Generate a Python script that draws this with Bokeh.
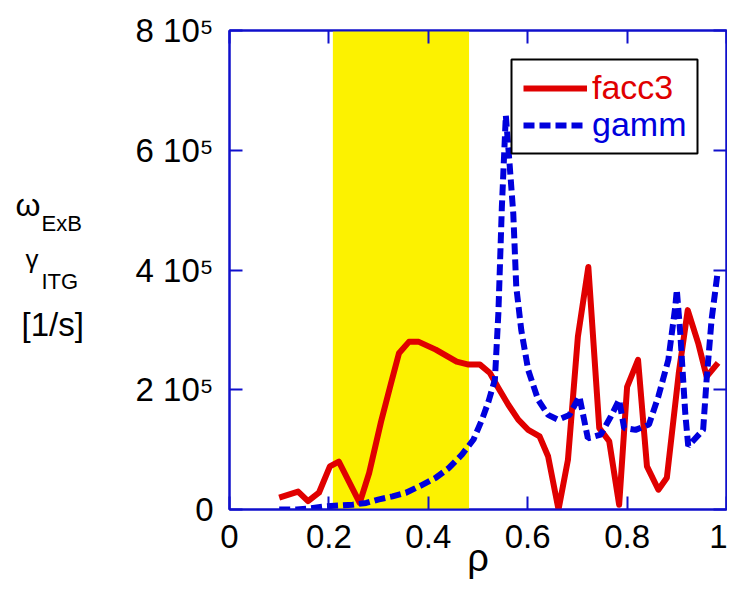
from bokeh.plotting import figure
from bokeh.layouts import row
from bokeh.models import (Range1d, LinearAxis, FixedTicker, BoxAnnotation, Legend,
                          LegendItem)
from bokeh.core.properties import value
from bokeh.embed import file_html
from bokeh.resources import INLINE

# ---- data ----
rho_facc3 = [0.100, 0.138, 0.158, 0.180, 0.202, 0.220, 0.262, 0.281, 0.305, 0.325,
             0.341, 0.361, 0.381, 0.415, 0.457, 0.481, 0.504, 0.524, 0.541, 0.561,
             0.581, 0.601, 0.624, 0.641, 0.662, 0.681, 0.701, 0.722, 0.744, 0.764,
             0.784, 0.800, 0.822, 0.840, 0.863, 0.880, 0.904, 0.922, 0.943, 0.960,
             0.983]
facc3 = [20e3, 30e3, 14e3, 28e3, 72e3, 80e3, 11e3, 61e3, 147e3, 211e3,
         261e3, 280e3, 280e3, 267e3, 247e3, 242e3, 242e3, 228e3, 203e3, 175e3,
         150e3, 133e3, 122e3, 89e3, 0e3, 83e3, 289e3, 405e3, 136e3, 114e3,
         8e3, 205e3, 250e3, 72e3, 33e3, 53e3, 228e3, 333e3, 278e3, 222e3,
         245e3]

rho_gamm = [0.100, 0.135, 0.162, 0.195, 0.222, 0.248, 0.275, 0.301, 0.328, 0.355,
            0.385, 0.415, 0.441, 0.468, 0.491, 0.508, 0.521, 0.534, 0.541, 0.548,
            0.556, 0.564, 0.571, 0.577, 0.587, 0.601, 0.621, 0.641, 0.661, 0.684,
            0.704, 0.721, 0.747, 0.767, 0.784, 0.794, 0.817, 0.844, 0.863, 0.883,
            0.897, 0.900, 0.907, 0.917, 0.923, 0.953, 0.960, 0.970, 0.982]
gamm = [0e3, 0e3, 2e3, 5.5e3, 6.7e3, 8e3, 11e3, 17e3, 22e3, 28e3,
        40e3, 53e3, 69e3, 92e3, 117e3, 150e3, 180e3, 217e3, 328e3, 505e3,
        658e3, 572e3, 494e3, 372e3, 300e3, 233e3, 183e3, 158e3, 150e3, 158e3,
        189e3, 119e3, 125e3, 155e3, 183e3, 136e3, 133e3, 142e3, 189e3, 250e3,
        339e3, 367e3, 294e3, 161e3, 106e3, 133e3, 217e3, 317e3, 395e3]

band_start = 0.208
band_end = 0.482

x_ticks = [0, 0.2, 0.4, 0.6, 0.8, 1.0]
x_tick_labels = ["0", "0.2", "0.4", "0.6", "0.8", "1"]
y_ticks = [0, 200000, 400000, 600000, 800000]
y_tick_labels = ["0", "2 10\u2075", "4 10\u2075", "6 10\u2075", "8 10\u2075"]

# ---- styling ----
FONT = "Liberation Sans"
AX = "#1010cc"
RED = "#e00000"
BLUE = "#0000dd"
YELLOW = "#fcf200"
H = 581
TITLE_W = 100
TOP, BOTTOM = 30, 71          # borders around the plotting frame (px)

# ---- left strip holding the multi-part y-axis title (pixel coordinates) ----
lab = figure(width=TITLE_W, height=H, x_range=Range1d(0, TITLE_W),
             y_range=Range1d(H - BOTTOM, TOP),
             output_backend="svg", toolbar_location=None,
             min_border_left=0, min_border_right=0,
             min_border_top=TOP, min_border_bottom=BOTTOM,
             x_axis_type=None, y_axis_type=None)
lab.grid.visible = False
lab.outline_line_color = None
lab.background_fill_color = "white"
lab.border_fill_color = "white"
for txt, x, y, size in [("\u03c9", 15, 205, "32px"), ("ExB", 41, 223, "22px"),
                        ("\u03b3", 25, 259, "26px"), ("ITG", 41, 282, "22px"),
                        ("[1/s]", 21, 325, "33px")]:
    lab.text(x=[x], y=[y], text=[txt], text_font=value(FONT), text_font_size=size,
             text_color="black", text_baseline="alphabetic", text_align="left")

# ---- main plot ----
p = figure(width=727 - TITLE_W, height=H, x_range=Range1d(0, 1), y_range=Range1d(0, 8e5),
           output_backend="svg", toolbar_location=None,
           min_border_left=229 - TITLE_W, min_border_right=1, min_border_top=TOP,
           min_border_bottom=BOTTOM)
p.grid.visible = False
p.outline_line_color = AX
p.outline_line_width = 2
p.background_fill_color = "white"
p.border_fill_color = "white"

p.add_layout(BoxAnnotation(left=band_start, right=band_end, fill_color=YELLOW,
                           fill_alpha=1, line_color=None, level="underlay"))

r1 = p.line(rho_facc3, facc3, line_color=RED, line_width=6, line_join="round")
r2 = p.line(rho_gamm, gamm, line_color=BLUE, line_width=6, line_dash="11 5")


def style_axis(ax, ticks, labels, minor, show_labels):
    ax.ticker = FixedTicker(ticks=ticks, num_minor_ticks=minor)
    ax.axis_line_color = AX
    ax.axis_line_width = 2
    ax.major_tick_line_color = AX
    ax.major_tick_line_width = 2
    ax.minor_tick_line_color = AX
    ax.minor_tick_line_width = 2
    ax.major_tick_in = 13
    ax.major_tick_out = 0
    ax.minor_tick_in = 8
    ax.minor_tick_out = 0
    if show_labels:
        ax.major_label_overrides = dict(zip(ticks, labels))
        ax.major_label_text_font = FONT
        ax.major_label_text_font_size = "33px"
        ax.major_label_text_color = "black"
    else:
        ax.major_label_overrides = {t: "" for t in ticks}
        ax.major_label_text_font_size = "0px"
        ax.major_label_standoff = 0


xb = p.xaxis[0]
style_axis(xb, x_ticks, x_tick_labels, 4, True)
xb.major_label_standoff = 15
xb.axis_label = "\u03c1"
xb.axis_label_text_font = FONT
xb.axis_label_text_font_size = "38px"
xb.axis_label_text_font_style = "normal"
xb.axis_label_text_color = "black"
xb.axis_label_standoff = -14

yl = p.yaxis[0]
style_axis(yl, y_ticks, y_tick_labels, 2, True)
yl.major_label_standoff = 16

xt = LinearAxis()
style_axis(xt, x_ticks, x_tick_labels, 4, False)
p.add_layout(xt, "above")
yr = LinearAxis()
style_axis(yr, y_ticks, y_tick_labels, 2, False)
p.add_layout(yr, "right")

# legend frame + two legends (different label colours)
p.add_layout(BoxAnnotation(left=511 - TITLE_W, right=697 - TITLE_W, top=59, bottom=153,
                           left_units="canvas", right_units="canvas",
                           top_units="canvas", bottom_units="canvas",
                           fill_color="white", fill_alpha=1,
                           line_color="black", line_alpha=1, line_width=2))
for item, col, loc in [(LegendItem(label="facc3", renderers=[r1]), RED, (294, 402)),
                       (LegendItem(label="gamm", renderers=[r2]), BLUE, (294, 365))]:
    lg = Legend(items=[item], location=loc, padding=0, margin=0, spacing=0,
                glyph_width=64, glyph_height=36, label_height=36,
                label_standoff=5, label_text_font=FONT,
                label_text_font_size="34px", label_text_color=col,
                border_line_color=None, background_fill_alpha=0)
    p.add_layout(lg, "center")

open("out.html", "w").write(file_html(row(lab, p), INLINE))
